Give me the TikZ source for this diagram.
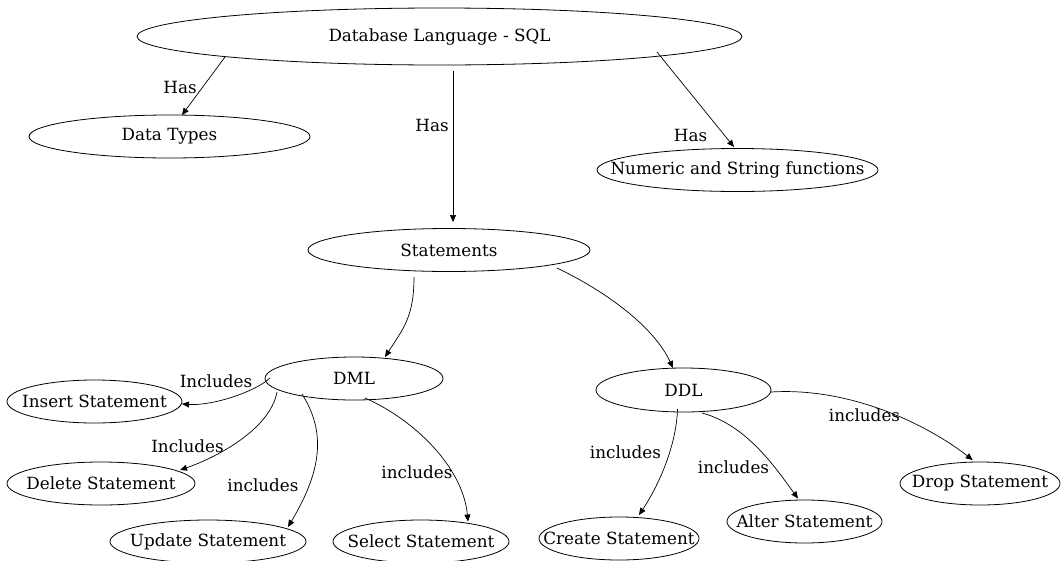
\documentclass[tikz,border=0pt]{standalone}
\usepackage{fontspec}
\setmainfont{DejaVu Serif}
\usetikzlibrary{shapes.geometric,arrows.meta,calc}
\newcommand{\zb}[1]{\makebox[0pt]{#1}}
\begin{document}
\begin{tikzpicture}[x=1pt,y=-1pt,
  ell/.style={ellipse,draw,line width=0.8pt,inner sep=0pt,font=\fontsize{16.8}{20}\selectfont},
  lbl/.style={inner sep=0pt,font=\fontsize{16.8}{20}\selectfont},
  con/.style={line width=0.7pt,-{Triangle[length=7pt,width=6pt]}}]
\useasboundingbox (0,0) rectangle (1061,560);
% nodes
\node[ell,minimum width=605pt,minimum height=57pt] (sql) at (439.5,36.5) {\zb{Database Language - SQL}};
\node[ell,minimum width=281pt,minimum height=43pt] (dt) at (169.5,136.5) {\zb{Data Types}};
\node[ell,minimum width=281pt,minimum height=43pt] (num) at (737.5,170) {\zb{Numeric and String functions}};
\node[ell,minimum width=282pt,minimum height=43pt] (st) at (449,250) {\zb{Statements}};
\node[ell,minimum width=178pt,minimum height=43pt] (dml) at (354,378.5) {\zb{DML}};
\node[ell,minimum width=175pt,minimum height=44pt] (ddl) at (683.5,390) {\zb{DDL}};
\node[ell,minimum width=175pt,minimum height=43pt] (ins) at (94.5,401.5) {\zb{Insert Statement}};
\node[ell,minimum width=188pt,minimum height=43pt] (del) at (101,483.5) {\zb{Delete Statement}};
\node[ell,minimum width=196pt,minimum height=43pt] (upd) at (208,541.5) {\zb{Update Statement}};
\node[ell,minimum width=176pt,minimum height=43pt] (sel) at (421,541.5) {\zb{Select Statement}};
\node[ell,minimum width=160pt,minimum height=43pt] (cre) at (619,538.5) {\zb{Create Statement}};
\node[ell,minimum width=155pt,minimum height=43pt] (alt) at (804.5,521.5) {\zb{Alter Statement}};
\node[ell,minimum width=160pt,minimum height=43pt] (drp) at (980,483.5) {\zb{Drop Statement}};
% labels
\node[lbl] (l1) at (180,87) {Has};
\node[lbl] (l2) at (432,125) {Has};
\node[lbl] (l3) at (690.5,135) {Has};
\node[lbl] (l4) at (216,381) {Includes};
\node[lbl] (l5) at (187.5,446) {Includes};
\node[lbl] (l6) at (263,485) {includes};
\node[lbl] (l7) at (417,472.7) {includes};
\node[lbl] (l8) at (625.5,452.7) {includes};
\node[lbl] (l9) at (733.5,467) {includes};
\node[lbl] (l10) at (864.5,415) {includes};
% connectors
\draw[con] ($(sql)+(-214.5,20.5)$) -- ($(dt)+(12.5,-21.5)$);
\draw[con] ($(sql)+(13.5,34.5)$) -- ($(st)+(4,-28)$);
\draw[con] ($(sql)+(217.5,15.5)$) -- ($(num)+(-3.5,-23)$);
\draw[con] ($(st)+(-35,27)$) .. controls +(0,40) and +(18,-28) .. ($(dml)+(31,-21.5)$);
\draw[con] ($(st)+(108,18)$) .. controls +(50,24) and +(-19,-41) .. ($(ddl)+(-10.5,-22)$);
\draw[con] ($(dml)+(-84,-0.5)$) .. controls +(-15,14) and +(30,2) .. ($(ins)+(87.5,2.5)$);
\draw[con] ($(dml)+(-77,13.5)$) .. controls +(-7,38) and +(35,-12) .. ($(del)+(79,-13.5)$);
\draw[con] ($(dml)+(-52,15.5)$) .. controls +(24,38) and +(34,-57) .. ($(upd)+(80,-14.5)$);
\draw[con] ($(dml)+(11,19.5)$) .. controls +(50,22) and +(-5,-54) .. ($(sel)+(47,-20)$);
\draw[con] ($(ddl)+(-6,19)$) .. controls +(-1,36) and +(20,-30) .. ($(cre)+(20,-23.5)$);
\draw[con] ($(ddl)+(18.5,23)$) .. controls +(45,12) and +(-22,-30) .. ($(alt)+(-6.5,-23)$);
\draw[con] ($(ddl)+(87.5,2)$) .. controls +(80,-5) and +(-45,-35) .. ($(drp)+(-7.3,-23.5)$);
\end{tikzpicture}
\end{document}
